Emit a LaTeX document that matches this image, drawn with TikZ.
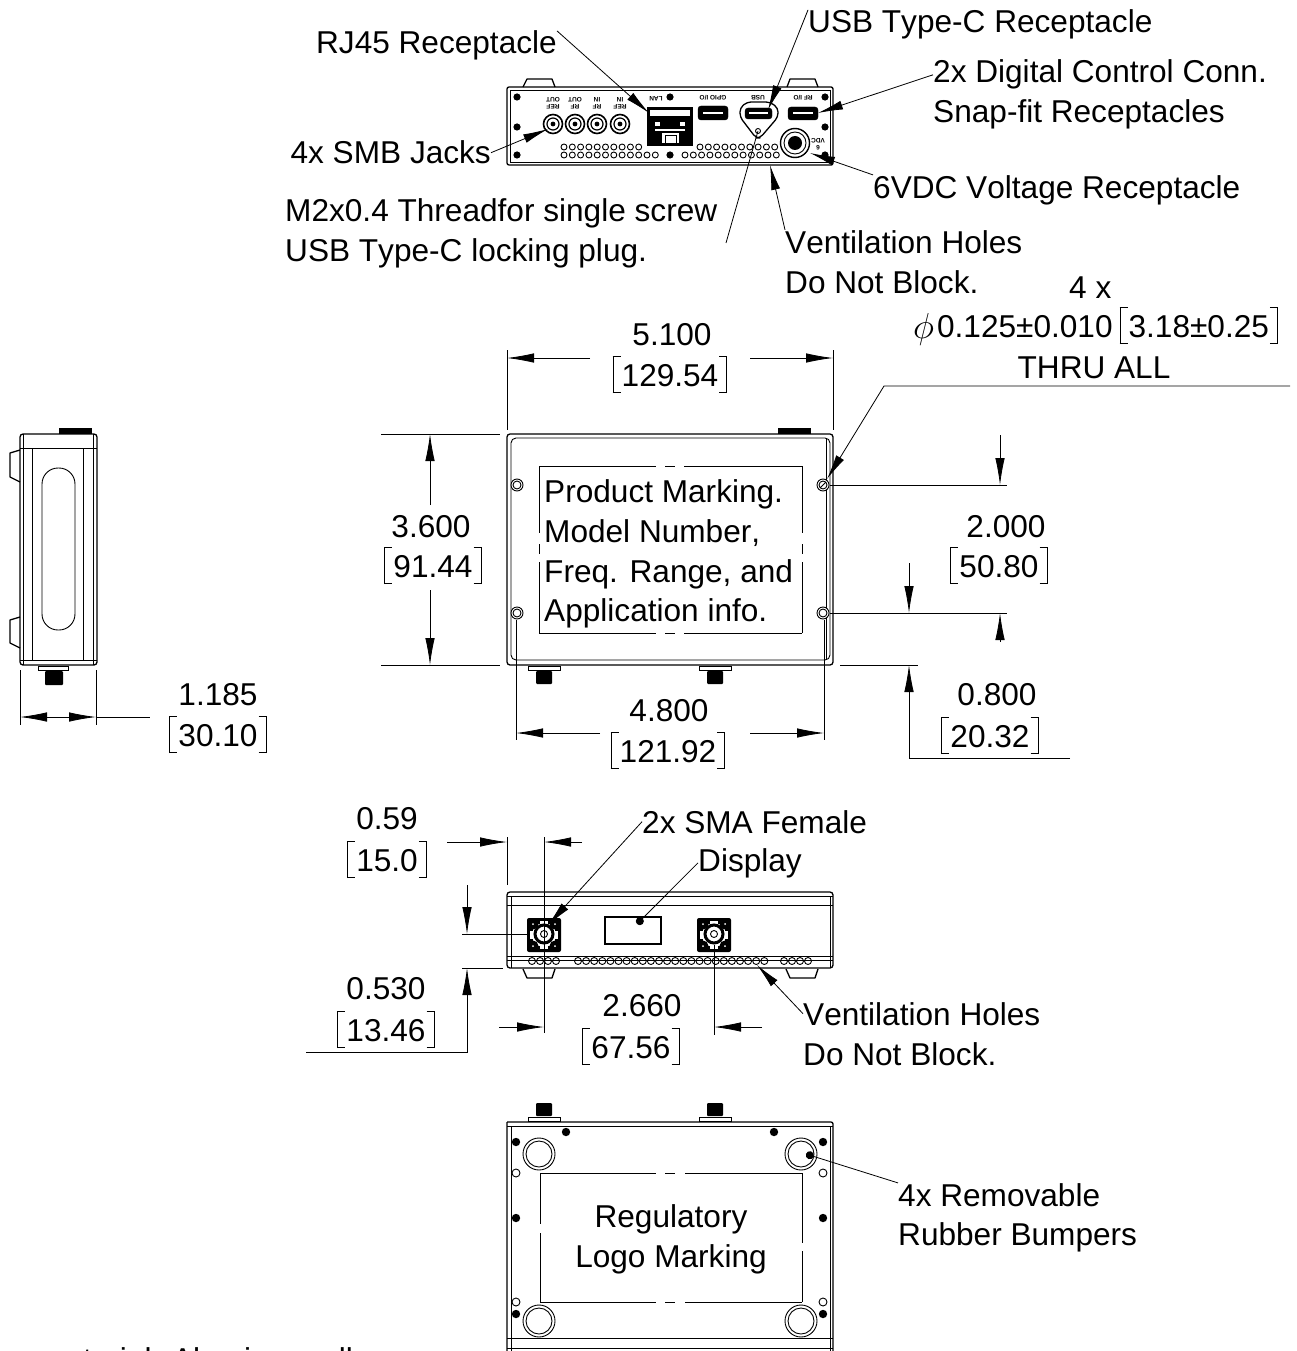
\documentclass[tikz,border=0pt]{standalone}
\usepackage{fontspec}
\usepackage{amsmath}
\setmainfont[Kerning=Off]{Liberation Sans}
\usetikzlibrary{arrows.meta}
\newcommand{\lblfont}{\fontsize{31.6}{40}\selectfont}
\newcommand{\tinyfont}{\fontsize{6.5}{7.5}\selectfont\bfseries}
\newcommand{\brkl}{\raisebox{-7pt}{\rule{0.9pt}{37pt}}\kern-0.9pt\raisebox{-7pt}{\rule{8pt}{0.9pt}}\kern-8pt\raisebox{29.1pt}{\rule{8pt}{0.9pt}}\kern1pt}
\newcommand{\brkr}{\kern1pt\raisebox{-7pt}{\rule{8pt}{0.9pt}}\kern-8pt\raisebox{29.1pt}{\rule{8pt}{0.9pt}}\kern-0.9pt\raisebox{-7pt}{\rule{0.9pt}{37pt}}}
\tikzset{
  lbl/.style={anchor=base west,inner sep=0pt,font=\lblfont},
  dimval/.style={anchor=base,inner sep=0pt,font=\lblfont},
  tinylbl/.style={inner sep=0pt,rotate=180,align=center,font=\tinyfont},
  body/.style={line width=1.3pt,line join=round},
  part/.style={line width=0.9pt},
  thinln/.style={line width=0.8pt},
  dimarr/.style={line width=0.8pt,-{Latex[length=27pt,width=9.5pt]}},
  ldr/.style={line width=0.8pt,-{Latex[length=25pt,width=9pt]}},
  ldrdot/.style={line width=0.8pt,-{Circle[length=8pt]}}
}
\begin{document}
\begin{tikzpicture}[x=1pt,y=-1pt]
\useasboundingbox (0,0) rectangle (1296,1351);
\clip (0,0) rectangle (1296,1351);

% top view
\draw[body] (523,87) -- (527,79) -- (552,79) -- (555,87);
\draw[body] (787,87) -- (790,79) -- (815,79) -- (818,87);
\draw[body,rounded corners=2pt] (507,87) rectangle (833,165);
\draw[part] (510,90) rectangle (830,162);
\foreach \x/\y in {517/97,517/127,517/155,670/97,670/155,825/97,825/127,825/155}
  \fill (\x,\y) circle (3.6);
\foreach \x in {553,575,597,620} {
  \draw[line width=1.6pt] (\x,124) circle (9.5);
  \draw[line width=1.2pt] (\x,124) circle (6);
  \fill (\x,124) circle (2.4);
}
\foreach \x in {0,...,9} {
  \draw[part] (564+8.3*\x,147) circle (3);
  \draw[part] (700+8.3*\x,147) circle (3);
}
\foreach \x in {0,...,11} {
  \draw[part] (564+8.3*\x,155) circle (3);
  \draw[part] (685+8.3*\x,155) circle (3);
}
\draw[line width=1.5pt,fill=black] (648,108) rectangle (692,145);
\fill[white] (650,110) rectangle (690,116);
\fill[white] (655,122) rectangle (660,126);
\fill[white] (680,122) rectangle (685,126);
\fill[white] (655,129) rectangle (685,131);
\fill[white] (662,133) rectangle (679,143);
\draw[part] (665,135) rectangle (676,143);
\draw[fill=black,rounded corners=3pt] (698,106) rectangle (728,120);
\draw[white,line width=1.2pt] (703,113) -- (723,113);
\draw[fill=black,rounded corners=3pt] (745,108) rectangle (772,119);
\draw[white,line width=1.2pt] (749,113) -- (768,113);
\draw[fill=black,rounded corners=3pt] (788,107) rectangle (818,120);
\draw[white,line width=1.2pt] (793,113) -- (813,113);
\draw[body,rounded corners=4pt] (740,108) -- (747,102) -- (770,102) -- (778,108) -- (778,117) -- (760,138) -- (756,138) -- (740,117) -- cycle;
\draw[part] (758,131) circle (2.5);
\draw[line width=1.4pt] (795,143) circle (14.5);
\draw[part] (795,143) circle (11);
\fill (795,143) circle (7);
\node[tinylbl] (rfa) at (553,103) {REF\\OUT};
\node[tinylbl] (rfb) at (575,103) {RF\\OUT};
\node[tinylbl] (rfc) at (597,103) {RF\\IN};
\node[tinylbl] (rfd) at (620,103) {REF\\IN};
\node[tinylbl] (lanlbl) at (656,99) {LAN};
\node[tinylbl] (gpiolbl) at (713,98) {GPIO I/O};
\node[tinylbl] (usblbl) at (758,98) {USB};
\node[tinylbl] (riolbl) at (803,98) {RF I/O};
\node[tinylbl] (vdclbl) at (818,144) {6\\VDC};

\node[lbl] (usbclbl) at (808,33) {USB Type-C Receptacle};
\node[lbl,anchor=base east] (rjlbl) at (557,54) {RJ45 Receptacle};
\node[lbl] (diglbl) at (933,83) {2x Digital Control Conn.};
\node[lbl] (snaplbl) at (933,123) {Snap-fit Receptacles};
\node[lbl,anchor=base east] (smblbl) at (491,164) {4x SMB Jacks};
\node[lbl] (vdc) at (873,198) {6VDC Voltage Receptacle};
\node[lbl] (threadlbl) at (285,221) {M2x0.4 Threadfor single screw};
\node[lbl] (lockinglbl) at (285,261) {USB Type-C locking plug.};
\node[lbl] (ventlbl) at (785,253) {Ventilation Holes};
\node[lbl] (blocklbl) at (785,293) {Do Not Block.};
\coordinate (rjtip) at (649,113);
\coordinate (usbctip) at (768,110);
\coordinate (digtip) at (818,113);
\coordinate (smbtip) at (548,129);
\coordinate (vdctip) at (810,153);
\coordinate (threadtip) at (758,131);
\coordinate (threadend) at (726,243);
\coordinate (venttip) at (770,165);
\draw[ldr] (rjlbl.north east) -- (rjtip);
\draw[ldr] (usbclbl.north west) -- (usbctip);
\draw[ldr] (diglbl.west) -- (digtip);
\draw[ldr] (smblbl.east) -- (smbtip);
\draw[ldr] (vdc.north west) -- (vdctip);
\draw[thinln] (threadend) -- (threadtip);
\draw[ldr] (ventlbl.north west) -- (venttip);

% side view
\fill (59,428) rectangle (92,434);
\draw[body] (20,450) -- (10,453) -- (10,477) -- (20,482);
\draw[body] (20,617) -- (10,620) -- (10,643) -- (20,648);
\draw[body,rounded corners=3pt] (20,434) rectangle (97,665);
\draw[part] (23,434) -- (23,665) (32,448) -- (32,660) (83,448) -- (83,660) (93,434) -- (93,665);
\draw[part] (20,448) -- (97,448) (20,660) -- (97,660);
\draw[part,rounded corners=16pt] (42,468) rectangle (75,630);
\draw[part] (38,666) rectangle (68,670);
\fill[rounded corners=1pt] (45,671) rectangle (63,685);
\draw[thinln] (20,670) -- (20,725) (96,670) -- (96,725);
\draw[thinln] (96,717) -- (150,717);
\draw[dimarr] (58,717) -- (20,717);
\draw[dimarr] (58,717) -- (96,717);
\node[dimval] (widthval) at (218,705) {1.185};
\node[dimval] (widthmm) at (218,746) {\brkl 30.10\brkr};

% main view
\fill (778,428) rectangle (811,434);
\draw[body,rounded corners=3pt] (507,434) rectangle (833,665);
\draw[part,rounded corners=5pt] (511,438) rectangle (830,660);
\draw[part] (826,438) -- (826,660);
\draw[thinln] (539,466) -- (539,533) (539,544) -- (539,554) (539,562) -- (539,633);
\draw[thinln] (802,466) -- (802,533) (802,544) -- (802,554) (802,562) -- (802,633);
\draw[thinln] (539,466) -- (656,466) (665,466) -- (675,466) (684,466) -- (802,466);
\draw[thinln] (539,633) -- (656,633) (665,633) -- (675,633) (684,633) -- (802,633);
\foreach \x/\y in {517/485,517/613,823/485,823/613} {
  \draw[part,fill=white] (\x,\y) circle (6);
  \draw[part] (\x,\y) circle (4);
}
\draw[thinln] (820,488) -- (826,482);
\foreach \x in {544,715} {
  \draw[part] (\x-16,666) rectangle (\x+16,670);
  \fill[rounded corners=1pt] (\x-8,671) rectangle (\x+8,684);
}
\node[lbl] (prodlbl) at (544,502) {Product Marking.};
\node[lbl] (modellbl) at (544,542) {Model Number,};
\node[lbl] (freqlbl) at (544,582) {Freq. Range, and};
\node[lbl] (applbl) at (544,621) {Application info.};

\draw[thinln] (507,350) -- (507,430) (833,350) -- (833,430);
\draw[dimarr] (590,358) -- (507,358);
\draw[dimarr] (750,358) -- (833,358);
\node[dimval] (lenval) at (672,345) {5.100};
\node[dimval] (lenmm) at (670,386) {\brkl 129.54\brkr};
\draw[thinln] (381,434) -- (500,434) (381,665) -- (500,665);
\draw[dimarr] (430,505) -- (430,434);
\draw[dimarr] (430,590) -- (430,665);
\node[dimval] (depthval) at (431,537) {3.600};
\node[dimval] (depthmm) at (433,577) {\brkl 91.44\brkr};
\draw[thinln] (516,620) -- (516,740) (824,620) -- (824,740);
\draw[dimarr] (600,733) -- (516,733);
\draw[dimarr] (750,733) -- (824,733);
\node[dimval] (holexval) at (669,721) {4.800};
\node[dimval] (holexmm) at (668,762) {\brkl 121.92\brkr};
\draw[thinln] (830,485) -- (1007,485) (830,613) -- (1007,613);
\draw[dimarr] (1000,435) -- (1000,485);
\draw[dimarr] (1000,642) -- (1000,613);
\node[dimval] (holeyval) at (1006,537) {2.000};
\node[dimval] (holeymm) at (999,577) {\brkl 50.80\brkr};
\draw[thinln] (840,665) -- (918,665);
\draw[dimarr] (909,563) -- (909,613);
\draw[dimarr] (1070,758) -- (909,758) -- (909,665);
\node[dimval] (edgeval) at (997,705) {0.800};
\node[dimval] (edgemm) at (990,747) {\brkl 20.32\brkr};
\node[lbl] (qtylbl) at (1069,298) {4 x};
\node[lbl] (dialbl) at (913,337) {\raisebox{-1pt}{\scalebox{1.45}{$\phi$}}\kern3pt 0.125±0.010\kern7pt\brkl 3.18±0.25\brkr};
\node[dimval] (thrulbl) at (1094,378) {THRU ALL};
\coordinate (thruend) at (1290,386);
\coordinate (thrubend) at (884,386);
\coordinate (thrutip) at (827,479);
\draw[ldr] (thruend) -- (thrubend) -- (thrutip);

% front view
\draw[body] (523,969) -- (527,978) -- (552,978) -- (555,969);
\draw[body] (786,969) -- (790,978) -- (815,978) -- (818,969);
\draw[body,rounded corners=3pt] (507,892) rectangle (833,968);
\draw[part] (507,896) -- (833,896) (507,905) -- (833,905) (507,956) -- (833,956) (507,960) -- (833,960);
\draw[part] (511,896) -- (511,968) (830,896) -- (830,968);
\draw[line width=1.3pt] (605,917) rectangle (661,944);
\foreach \x in {544,714} {
  \fill[rounded corners=2pt] (\x-17,918) rectangle (\x+17,952);
  \fill[white] (\x-11,924) rectangle (\x+11,946);
  \foreach \u in {-11,11} \foreach \v in {-11,11} {
    \fill (\x+\u,935+\v) circle (5.5);
    \fill[white] (\x+\u,935+\v) circle (1);
  }
  \fill[white] (\x-14,931) rectangle (\x+14,939);
  \fill[white] (\x-4,921) rectangle (\x+4,949);
  \draw[line width=3pt,fill=white] (\x,934) circle (9);
  \draw[part] (\x,934) circle (3.5);
}
\foreach \x in {0,...,3} \draw[part] (532+8*\x,961) circle (3.5);
\foreach \x in {0,...,23} \draw[part] (578+8.1*\x,961) circle (3.5);
\foreach \x in {0,...,3} \draw[part] (784+8*\x,961) circle (3.5);
\draw[thinln] (507,837) -- (507,885);
\draw[thinln] (544,837) -- (544,1033);
\draw[dimarr] (447,842) -- (507,842);
\draw[dimarr] (582,842) -- (544,842);
\node[dimval] (smaxval) at (387,829) {0.59};
\node[dimval] (smaxmm) at (387,871) {\brkl 15.0\brkr};
\draw[thinln] (462,934) -- (527,934) (462,968) -- (503,968);
\draw[dimarr] (467,885) -- (467,934);
\draw[dimarr] (306,1052) -- (467,1052) -- (467,968);
\node[dimval] (smayval) at (386,999) {0.530};
\node[dimval] (smaymm) at (386,1041) {\brkl 13.46\brkr};
\draw[thinln] (714,945) -- (714,1035);
\draw[dimarr] (499,1027) -- (544,1027);
\draw[dimarr] (762,1027) -- (714,1027);
\node[dimval] (pitchval) at (642,1016) {2.660};
\node[dimval] (pitchmm) at (631,1058) {\brkl 67.56\brkr};
\node[lbl] (smalbl) at (642,833) {2x SMA Female};
\node[lbl] (displbl) at (698,871) {Display};
\node[lbl] (ventblbl) at (803,1025) {Ventilation Holes};
\node[lbl] (blockblbl) at (803,1065) {Do Not Block.};
\coordinate (smatip) at (548,925);
\coordinate (disptip) at (637,924);
\coordinate (ventbtip) at (757,965);
\draw[ldr] (smalbl.west) -- (smatip);
\draw[ldrdot] (displbl.west) -- (disptip);
\draw[ldr] (ventblbl.west) -- (ventbtip);

% bottom view
\foreach \x in {544,715} {
  \draw[part] (\x-16,1117) rectangle (\x+16,1121);
  \fill[rounded corners=1pt] (\x-8,1103) rectangle (\x+8,1116);
}
\draw[body,rounded corners=2pt] (507,1122) -- (833,1122) -- (833,1370) (507,1370) -- (507,1122);
\draw[part] (507,1126) -- (833,1126) (507,1338) -- (833,1338) (507,1348) -- (833,1348);
\draw[part] (511,1126) -- (511,1370) (830,1126) -- (830,1370);
\draw[thinln] (540,1173) -- (656,1173) (665,1173) -- (675,1173) (685,1173) -- (802,1173);
\draw[thinln] (540,1302) -- (656,1302) (665,1302) -- (675,1302) (685,1302) -- (802,1302);
\draw[thinln] (540,1173) -- (540,1224) (540,1233) -- (540,1302);
\draw[thinln] (802,1173) -- (802,1243) (802,1251) -- (802,1302);
\foreach \x/\y in {539/1154,801/1154,539/1321,801/1321} {
  \draw[part,fill=white] (\x,\y) circle (16);
  \draw[part] (\x,\y) circle (13);
}
\foreach \x/\y in {516/1142,823/1142,566/1132,774/1132,516/1218,823/1218,516/1314,823/1314}
  \fill (\x,\y) circle (4.2);
\foreach \x/\y in {516/1173,823/1173,516/1302,823/1302}
  \draw[part] (\x,\y) circle (4);
\node[dimval] (reglbl) at (671,1227) {Regulatory};
\node[dimval] (logolbl) at (671,1267) {Logo Marking};
\node[lbl] (bumplbl) at (898,1206) {4x Removable};
\node[lbl] (rubberlbl) at (898,1245) {Rubber Bumpers};
\coordinate (bumptip) at (806,1154);
\draw[ldrdot] (bumplbl.north west) -- (bumptip);
\node[lbl] (matlbl) at (39,1370) {material: Aluminum alloy};
\end{tikzpicture}
\end{document}
